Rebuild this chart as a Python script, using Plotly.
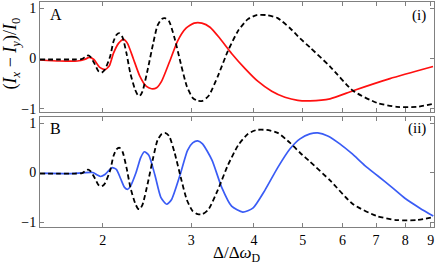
import plotly.graph_objects as go
from plotly.subplots import make_subplots
import math

# reference curve (black dashed), same in both panels
ref_x = [1.50, 1.64, 1.76, 1.82, 1.85, 1.87, 1.89, 1.93, 1.96, 1.99,
         2.02, 2.07, 2.10, 2.13, 2.16, 2.19, 2.23, 2.27, 2.32, 2.35,
         2.37, 2.40, 2.46, 2.52, 2.57, 2.62, 2.66, 2.71, 2.78, 2.86,
         2.94, 3.02, 3.09, 3.16, 3.25, 3.39, 3.55, 3.72, 3.89, 4.05,
         4.24, 4.46, 4.72, 4.94, 5.17, 5.67, 6.30, 7.03, 7.70, 8.44, 9.09]
ref_y = [-0.02, -0.02, -0.02, -0.01, 0.04, 0.06, 0.03, -0.12, -0.25, -0.28,
         -0.22, 0.05, 0.33, 0.47, 0.5, 0.42, 0.1, -0.3, -0.62, -0.73,
         -0.74, -0.65, -0.2, 0.3, 0.65, 0.78, 0.8, 0.74, 0.4, -0.1,
         -0.55, -0.78, -0.84, -0.84, -0.74, -0.35, 0.15, 0.55, 0.78, 0.86,
         0.86, 0.8, 0.6, 0.4, 0.22, -0.16, -0.64, -0.88, -0.96, -0.96, -0.9]

# panel A, red
a_x = [1.50, 1.64, 1.78, 1.84, 1.88, 1.92, 1.97, 2.02, 2.06, 2.10,
       2.15, 2.20, 2.24, 2.30, 2.37, 2.44, 2.50, 2.56, 2.62, 2.72,
       2.82, 2.93, 3.04, 3.15, 3.27, 3.42, 3.61, 3.84, 4.07, 4.34,
       4.61, 4.89, 5.17, 5.67, 6.30, 7.46, 9.09]
a_y = [-0.03, -0.05, -0.05, -0.02, 0.02, -0.02, -0.17, -0.22, -0.15, 0.1,
       0.3, 0.38, 0.3, 0.0, -0.35, -0.55, -0.6, -0.58, -0.45, -0.05,
       0.35, 0.6, 0.7, 0.7, 0.62, 0.4, 0.1, -0.2, -0.45, -0.65,
       -0.77, -0.83, -0.84, -0.8, -0.64, -0.4, -0.16]

# panel B, blue
b_x = [1.50, 1.72, 1.91, 1.95, 1.98, 2.02, 2.06, 2.09, 2.13, 2.17,
       2.21, 2.24, 2.27, 2.33, 2.38, 2.42, 2.47, 2.54, 2.61, 2.68,
       2.74, 2.85, 2.95, 3.02, 3.09, 3.16, 3.30, 3.45, 3.61, 3.80,
       3.98, 4.21, 4.46, 4.72, 4.94, 5.17, 5.36, 5.61, 5.93, 6.27,
       6.65, 7.06, 7.53, 7.99, 8.56, 9.10]
b_y = [-0.01, -0.02, 0.0, -0.05, -0.08, -0.04, 0.05, 0.1, 0.06, -0.12,
       -0.3, -0.34, -0.28, 0.0, 0.3, 0.42, 0.35, -0.05, -0.5, -0.64,
       -0.55, -0.05, 0.45, 0.6, 0.64, 0.58, 0.25, -0.3, -0.68, -0.8,
       -0.72, -0.35, 0.1, 0.48, 0.68, 0.78, 0.8, 0.74, 0.58, 0.38,
       0.14, -0.07, -0.3, -0.52, -0.72, -0.88]

x_ticks = [2, 3, 4, 5, 6, 7, 8, 9]
y_ticks = [-1, 0, 1]
y_ticktext = ["\u22121", "0", "1"]

FONT = "Liberation Serif"
FRAME = "#808080"

fig = make_subplots(rows=2, cols=1, shared_xaxes=False, vertical_spacing=0.023)

dash_line = dict(color="black", width=1.8, dash="5px,3px", shape="spline", smoothing=0.6)
fig.add_trace(go.Scatter(x=a_x, y=a_y, mode="lines",
                         line=dict(color="#ff1010", width=1.7, shape="spline", smoothing=0.6)), 1, 1)
fig.add_trace(go.Scatter(x=ref_x, y=ref_y, mode="lines", line=dash_line), 1, 1)
fig.add_trace(go.Scatter(x=b_x, y=b_y, mode="lines",
                         line=dict(color="#3a5cf5", width=1.7, shape="spline", smoothing=0.6)), 2, 1)
fig.add_trace(go.Scatter(x=ref_x, y=ref_y, mode="lines", line=dash_line), 2, 1)

xr = [math.log10(1.5), math.log10(9.13)]
for r in (1, 2):
    fig.update_xaxes(type="log", range=xr, tickvals=x_ticks,
                     ticktext=[str(t) for t in x_ticks], showticklabels=(r == 2),
                     ticks="inside", ticklen=4, tickcolor=FRAME, showline=True, linecolor=FRAME,
                     linewidth=1, mirror="ticks", showgrid=False, zeroline=False,
                     tickfont=dict(family=FONT, size=14, color="black"), row=r, col=1)
    fig.update_yaxes(tickvals=y_ticks, ticktext=y_ticktext,
                     ticks="inside", ticklen=4, tickcolor=FRAME, showline=True, linecolor=FRAME,
                     linewidth=1, mirror="ticks", showgrid=False, zeroline=False,
                     tickfont=dict(family=FONT, size=14, color="black"), row=r, col=1)
fig.update_yaxes(range=[-1.06, 1.12], row=1, col=1)
fig.update_yaxes(range=[-1.1, 1.12], row=2, col=1)

fig.update_layout(
    width=436, height=264,
    margin=dict(l=40, r=2, t=2, b=37),
    plot_bgcolor="white", paper_bgcolor="white",
    showlegend=False,
    font=dict(family=FONT, size=14, color="black"),
)

fig.add_annotation(text="A", xref="paper", yref="paper", x=0.02, y=0.99,
                   xanchor="left", yanchor="top", showarrow=False, font=dict(size=16))
fig.add_annotation(text="B", xref="paper", yref="paper", x=0.02, y=0.485,
                   xanchor="left", yanchor="top", showarrow=False, font=dict(size=16))
fig.add_annotation(text="(i)", xref="paper", yref="paper", x=0.985, y=0.985,
                   xanchor="right", yanchor="top", showarrow=False, font=dict(size=15))
fig.add_annotation(text="(ii)", xref="paper", yref="paper", x=0.985, y=0.485,
                   xanchor="right", yanchor="top", showarrow=False, font=dict(size=15))
fig.add_annotation(text="(<i>I<sub>x</sub></i> \u2212 <i>I<sub>y</sub></i>)/<i>I</i><sub>0</sub>",
                   xref="paper", yref="paper", x=-0.072, y=0.77, textangle=-90,
                   xanchor="center", yanchor="middle", showarrow=False, font=dict(size=18))
fig.add_annotation(text="\u0394/\u0394<i>\u03c9</i><sub>D</sub>",
                   xref="paper", yref="paper", x=0.5, y=-0.062,
                   xanchor="center", yanchor="top", showarrow=False, font=dict(size=17))

fig.write_html("out.html", config={"displayModeBar": False},
               post_script="document.body.style.margin='0';")
